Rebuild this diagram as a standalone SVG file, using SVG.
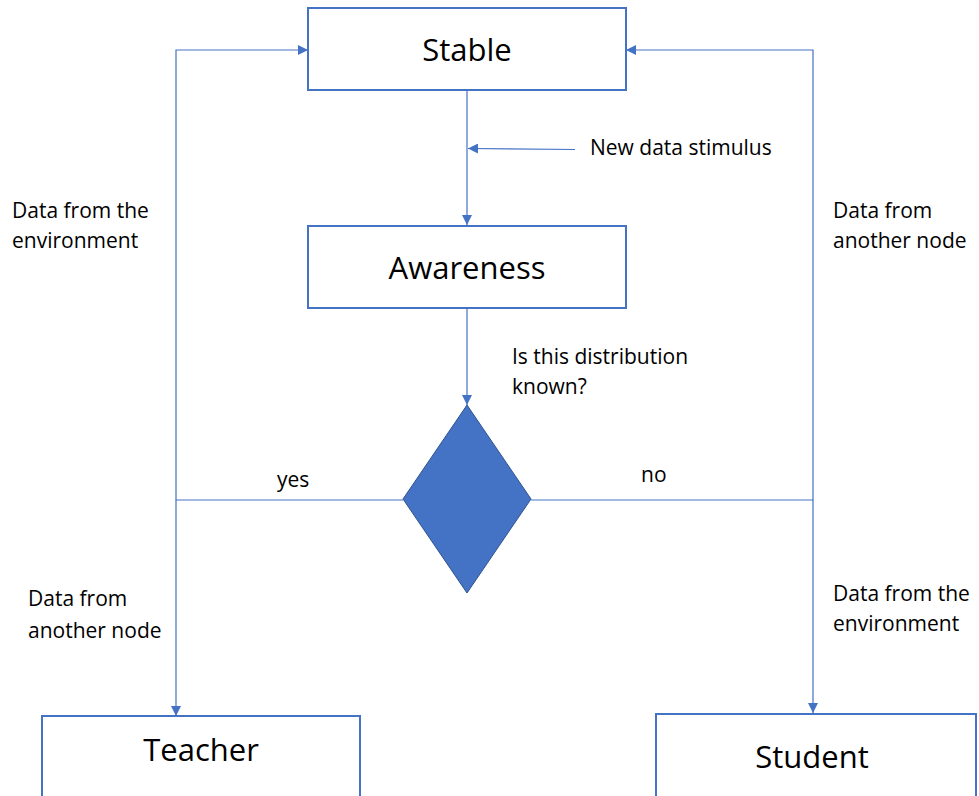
<svg xmlns="http://www.w3.org/2000/svg" width="979" height="796" viewBox="0 0 979 796">
<defs>
<marker id="ah" viewBox="0 0 10 10" refX="10" refY="5" markerWidth="11" markerHeight="10" markerUnits="userSpaceOnUse" orient="auto">
<path d="M0,0 L10,5 L0,10 z" fill="#4472C4"/>
</marker>
</defs>
<style>
.box{fill:#fff;stroke:#4472C4;stroke-width:2}
.big{font-family:"Open Sans",Lato,"Liberation Sans",sans-serif;font-size:31px;fill:#000;text-anchor:middle}
.lbl{font-family:"Open Sans",Lato,"Liberation Sans",sans-serif;font-size:21px;fill:#000}
.ln{fill:none;stroke:#4472C4;stroke-width:1.2}
</style>
<rect width="979" height="796" fill="#fff"/>
<g id="connectors">
<line class="ln" x1="467" y1="90" x2="467" y2="225" marker-end="url(#ah)"/>
<line class="ln" x1="575" y1="149.5" x2="468" y2="148.5" marker-end="url(#ah)"/>
<line class="ln" x1="467" y1="308" x2="467" y2="405" marker-end="url(#ah)"/>
<polyline class="ln" points="403,500 176,500 176,50 308,50" marker-end="url(#ah)"/>
<line class="ln" x1="176" y1="500" x2="176" y2="716" marker-end="url(#ah)"/>
<polyline class="ln" points="531,500 813,500 813,50 626,50" marker-end="url(#ah)"/>
<line class="ln" x1="813" y1="500" x2="813" y2="713" marker-end="url(#ah)"/>
</g>
<g id="stable">
<rect class="box" x="308" y="8" width="318" height="82"/>
<text class="big" x="467" y="61">Stable</text>
</g>
<g id="awareness">
<rect class="box" x="308" y="226" width="318" height="82"/>
<text class="big" x="467" y="279">Awareness</text>
</g>
<g id="decision">
<polygon points="467,405 531,499 467,593 403,499" fill="#4472C4" stroke="#2F528F" stroke-width="1"/>
</g>
<g id="teacher">
<rect class="box" x="42" y="716" width="318" height="100"/>
<text class="big" x="201" y="761">Teacher</text>
</g>
<g id="student">
<rect class="box" x="656" y="714" width="320" height="100"/>
<text class="big" x="812" y="768">Student</text>
</g>
<g id="labels">
<text class="lbl" x="590" y="155">New data stimulus</text>
<text class="lbl" x="12" y="218">Data from the</text>
<text class="lbl" x="12" y="248">environment</text>
<text class="lbl" x="833" y="218">Data from</text>
<text class="lbl" x="833" y="248">another node</text>
<text class="lbl" x="512" y="364">Is this distribution</text>
<text class="lbl" x="512" y="394">known?</text>
<text class="lbl" x="277" y="487">yes</text>
<text class="lbl" x="641" y="482">no</text>
<text class="lbl" x="28" y="606">Data from</text>
<text class="lbl" x="28" y="638">another node</text>
<text class="lbl" x="833" y="601">Data from the</text>
<text class="lbl" x="833" y="631">environment</text>
</g>
</svg>
